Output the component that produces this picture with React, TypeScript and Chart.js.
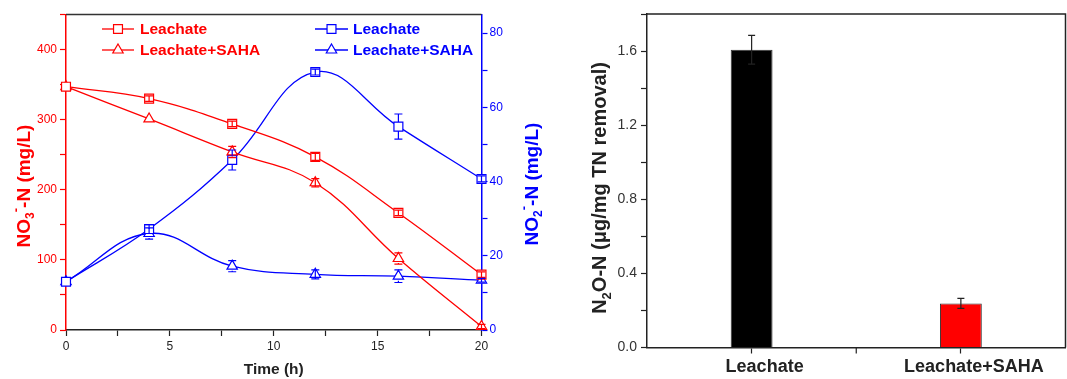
import { useEffect, useRef } from 'react';
import { Chart, registerables } from 'chart.js';

Chart.register(...registerables);

// ---------- data ----------
const times = [0, 4, 8, 12, 16, 20];
const seriesLabels = ['Leachate', 'Leachate+SAHA'];
const no3Leachate = [347, 330, 294, 247, 167, 79];
const no3LeachateErr = [0, 4, 4, 5, 4, 4];
const no3Saha = [347, 301, 254, 210, 102, 5];
const no3SahaErr = [0, 0, 8, 6, 8, 3];
const no2Leachate = [13, 27.2, 45.8, 69.5, 54.8, 40.7];
const no2LeachateErr = [0, 1.2, 2.7, 0.8, 3.4, 0.8];
const no2Saha = [13, 26, 17.2, 15, 14.5, 13.4];
const no2SahaErr = [0, 1.5, 1.5, 1.2, 1.7, 0.5];

const barCategories = ['Leachate', 'Leachate+SAHA'];
const n2oValues = [1.607, 0.238];
const n2oErr = [0.078, 0.027];

// ---------- style ----------
const FONT = '"Liberation Sans", Arial, Helvetica, sans-serif';
const RED = '#ff0000';
const BLUE = '#0000ff';
const DARK = '#222222';

Chart.defaults.font.family = FONT;

type Part = { t: string; size: number; dy?: number };

function drawRich(ctx: CanvasRenderingContext2D, parts: Part[], cx: number, cy: number, color: string, rotate: boolean, baseline: number) {
  ctx.save();
  ctx.translate(cx, cy);
  if (rotate) ctx.rotate(-Math.PI / 2);
  ctx.fillStyle = color;
  ctx.textBaseline = 'alphabetic';
  ctx.textAlign = 'left';
  const widths = parts.map((p) => {
    ctx.font = `bold ${p.size}px ${FONT}`;
    return ctx.measureText(p.t).width;
  });
  const total = widths.reduce((a, b) => a + b, 0);
  let x = -total / 2;
  parts.forEach((p, i) => {
    ctx.font = `bold ${p.size}px ${FONT}`;
    ctx.fillText(p.t, x, baseline + (p.dy || 0));
    x += widths[i];
  });
  ctx.restore();
}

function drawMarker(ctx: CanvasRenderingContext2D, style: string, x: number, y: number, r: number, stroke: string, lw: number) {
  ctx.save();
  ctx.beginPath();
  if (style === 'rect') {
    const h = r * Math.SQRT1_2;
    ctx.rect(x - h, y - h, 2 * h, 2 * h);
  } else {
    for (let k = 0; k < 3; k++) {
      const a = (k * 2 * Math.PI) / 3;
      const px = x + Math.sin(a) * r;
      const py = y - Math.cos(a) * r;
      if (k === 0) ctx.moveTo(px, py);
      else ctx.lineTo(px, py);
    }
    ctx.closePath();
  }
  ctx.fillStyle = '#ffffff';
  ctx.fill();
  ctx.strokeStyle = stroke;
  ctx.lineWidth = lw;
  ctx.stroke();
  ctx.restore();
}

const errorBarPlugin = {
  id: 'errorBars',
  afterDatasetsDraw(chart: any) {
    const ctx = chart.ctx as CanvasRenderingContext2D;
    chart.data.datasets.forEach((ds: any, i: number) => {
      const errs: number[] | undefined = ds.errors;
      if (!errs) return;
      const meta = chart.getDatasetMeta(i);
      const yScale = chart.scales[meta.yAxisID];
      const gap = ds.errorGap || 0;
      const cap = ds.errorCap || 4;
      meta.data.forEach((el: any, j: number) => {
        const e = errs[j];
        if (!e) return;
        const raw = ds.data[j];
        const v = typeof raw === 'number' ? raw : raw.y;
        const x = el.x;
        const y = yScale.getPixelForValue(v);
        const yT = yScale.getPixelForValue(v + e);
        const yB = yScale.getPixelForValue(v - e);
        ctx.save();
        ctx.strokeStyle = ds.errorColor || ds.borderColor;
        ctx.lineWidth = 1.2;
        ctx.beginPath();
        if (y - yT > gap) {
          ctx.moveTo(x, yT);
          ctx.lineTo(x, y - gap);
          ctx.moveTo(x, y + gap);
          ctx.lineTo(x, yB);
        } else {
          ctx.moveTo(x, yT);
          ctx.lineTo(x, yB);
        }
        ctx.moveTo(x - cap, yT);
        ctx.lineTo(x + cap, yT);
        ctx.moveTo(x - cap, yB);
        ctx.lineTo(x + cap, yB);
        ctx.stroke();
        ctx.restore();
      });
    });
  },
};

const legendPluginA = {
  id: 'legendA',
  afterDraw(chart: any) {
    const ctx = chart.ctx as CanvasRenderingContext2D;
    const cols = [
      { x0: 102, x1: 134, tx: 140 },
      { x0: 315, x1: 348, tx: 353 },
    ];
    const rows = [29, 50];
    chart.data.datasets.forEach((ds: any, i: number) => {
      const c = cols[i < 2 ? 0 : 1];
      const y = rows[i % 2];
      ctx.save();
      ctx.strokeStyle = ds.borderColor;
      ctx.lineWidth = 1.3;
      ctx.beginPath();
      ctx.moveTo(c.x0, y);
      ctx.lineTo(c.x1, y);
      ctx.stroke();
      drawMarker(ctx, ds.pointStyle, (c.x0 + c.x1) / 2, y, ds.pointRadius, ds.borderColor, 1.2);
      ctx.fillStyle = ds.borderColor;
      ctx.font = `bold 15.5px ${FONT}`;
      ctx.textBaseline = 'middle';
      ctx.textAlign = 'left';
      ctx.fillText(ds.label, c.tx, y + 1);
      ctx.restore();
    });
  },
};

const decoPluginA = {
  id: 'decoA',
  afterDraw(chart: any) {
    const ctx = chart.ctx as CanvasRenderingContext2D;
    const a = chart.chartArea;
    ctx.save();
    ctx.strokeStyle = '#333333';
    ctx.lineWidth = 1.5;
    ctx.beginPath();
    ctx.moveTo(a.left, a.top);
    ctx.lineTo(a.right, a.top);
    ctx.stroke();
    ctx.fillStyle = DARK;
    ctx.font = `bold 15.5px ${FONT}`;
    ctx.textAlign = 'center';
    ctx.textBaseline = 'middle';
    ctx.fillText('Time (h)', (a.left + a.right) / 2, 370);
    ctx.restore();
    drawRich(ctx, [
      { t: 'NO', size: 19 },
      { t: '3', size: 12, dy: 4 },
      { t: '-', size: 13, dy: -10 },
      { t: '-N (mg/L)', size: 19 },
    ], 22.5, 186, RED, true, 7);
    drawRich(ctx, [
      { t: 'NO', size: 19 },
      { t: '2', size: 12, dy: 4 },
      { t: '-', size: 13, dy: -10 },
      { t: '-N (mg/L)', size: 19 },
    ], 531, 184, BLUE, true, 7);
  },
};

const decoPluginB = {
  id: 'decoB',
  afterDraw(chart: any) {
    const ctx = chart.ctx as CanvasRenderingContext2D;
    const a = chart.chartArea;
    const xs = chart.scales.x;
    ctx.save();
    ctx.strokeStyle = DARK;
    ctx.lineWidth = 1.5;
    ctx.beginPath();
    ctx.moveTo(a.left, a.top);
    ctx.lineTo(a.right, a.top);
    ctx.lineTo(a.right, a.bottom);
    ctx.stroke();
    const mid = xs.getPixelForValue(0.5);
    ctx.lineWidth = 1.2;
    ctx.beginPath();
    ctx.moveTo(mid, a.bottom);
    ctx.lineTo(mid, a.bottom + 6);
    ctx.stroke();
    ctx.restore();
    drawRich(ctx, [
      { t: 'N', size: 20 },
      { t: '2', size: 13, dy: 5 },
      { t: 'O-N (\u03bcg/mg TN removal)', size: 20 },
    ], 54, 188, DARK, true, 7);
  },
};

function lineDataset(label: string, vals: number[], errs: number[], color: string, style: string, axis: string) {
  return {
    label,
    yAxisID: axis,
    data: times.map((t, i) => ({ x: t, y: vals[i] })),
    errors: errs,
    errorGap: 4.5,
    errorCap: 4,
    borderColor: color,
    backgroundColor: '#ffffff',
    pointBackgroundColor: '#ffffff',
    pointBorderColor: color,
    pointStyle: style,
    pointRadius: style === 'rect' ? 6.3 : 6,
    pointBorderWidth: 1.2,
    borderWidth: 1.3,
    tension: 0.4,
    clip: false,
    fill: false,
  };
}

export default function App() {
  const refA = useRef<HTMLCanvasElement>(null);
  const refB = useRef<HTMLCanvasElement>(null);

  useEffect(() => {
    const chartA = new Chart(refA.current as HTMLCanvasElement, {
      type: 'line',
      data: {
        datasets: [
          lineDataset(seriesLabels[0], no3Leachate, no3LeachateErr, RED, 'rect', 'y'),
          lineDataset(seriesLabels[1], no3Saha, no3SahaErr, RED, 'triangle', 'y'),
          lineDataset(seriesLabels[0], no2Leachate, no2LeachateErr, BLUE, 'rect', 'y2'),
          lineDataset(seriesLabels[1], no2Saha, no2SahaErr, BLUE, 'triangle', 'y2'),
        ] as any,
      },
      options: {
        animation: false,
        responsive: false,
        devicePixelRatio: 1,
        layout: { padding: { top: 14.5, left: 0, right: 0, bottom: 0 } },
        plugins: { legend: { display: false }, tooltip: { enabled: false } },
        scales: {
          x: {
            type: 'linear',
            min: 0,
            max: 20,
            afterFit: (s: any) => { s.height = 49; },
            ticks: {
              stepSize: 2.5,
              autoSkip: false,
              maxRotation: 0,
              callback: (v: any) => (v % 5 === 0 ? String(v) : ''),
              color: DARK,
              font: { size: 12 },
              padding: 3,
            },
            grid: { drawOnChartArea: false, tickLength: 6, tickColor: DARK, tickWidth: 1.2 },
            border: { color: DARK, width: 1.5 },
          },
          y: {
            type: 'linear',
            position: 'left',
            min: 0,
            max: 450,
            afterFit: (s: any) => { s.width = 66; },
            ticks: {
              stepSize: 50,
              autoSkip: false,
              callback: (v: any) => (v % 100 === 0 ? String(v) : ''),
              color: RED,
              font: { size: 12 },
              padding: 3,
            },
            grid: { drawOnChartArea: false, tickLength: 6, tickColor: RED, tickWidth: 1.2 },
            border: { color: RED, width: 1.5 },
          },
          y2: {
            type: 'linear',
            position: 'right',
            min: 0,
            max: 85,
            afterFit: (s: any) => { s.width = 63.5; },
            ticks: {
              stepSize: 10,
              autoSkip: false,
              callback: (v: any) => (v % 20 === 0 ? String(v) : ''),
              color: BLUE,
              font: { size: 12 },
              padding: 2,
            },
            grid: {
              drawOnChartArea: false,
              tickLength: 6,
              tickWidth: 1.2,
              tickColor: (c: any) => (c.tick && c.tick.value % 10 === 0 ? BLUE : 'rgba(0,0,0,0)'),
            },
            border: { color: BLUE, width: 1.5 },
          },
        },
      } as any,
      plugins: [errorBarPlugin, legendPluginA, decoPluginA],
    });

    const chartB = new Chart(refB.current as HTMLCanvasElement, {
      type: 'bar',
      data: {
        labels: barCategories,
        datasets: [
          {
            data: n2oValues,
            errors: n2oErr,
            errorColor: DARK,
            errorCap: 3.5,
            backgroundColor: ['#000000', '#ff0000'],
            borderColor: '#333333',
            borderWidth: 1,
            barPercentage: 0.2,
            categoryPercentage: 1,
          } as any,
        ],
      },
      options: {
        animation: false,
        responsive: false,
        devicePixelRatio: 1,
        layout: { padding: { top: 14, left: 0, right: 1.5, bottom: 0 } },
        plugins: { legend: { display: false }, tooltip: { enabled: false } },
        scales: {
          x: {
            afterFit: (s: any) => { s.height = 31.5; },
            grid: { offset: false, drawOnChartArea: false, tickLength: 6, tickColor: DARK, tickWidth: 1.2 },
            border: { color: DARK, width: 1.5 },
            ticks: { color: DARK, font: { size: 18, weight: 'bold' }, padding: 3, labelOffset: 13, maxRotation: 0, autoSkip: false },
          },
          y: {
            min: 0,
            max: 1.8,
            afterFit: (s: any) => { s.width = 102; },
            ticks: {
              stepSize: 0.2,
              autoSkip: false,
              callback: (v: any) => (Math.round(v * 10) % 4 === 0 ? Number(v).toFixed(1) : ''),
              color: '#333333',
              font: { size: 14 },
              padding: 4,
            },
            grid: { drawOnChartArea: false, tickLength: 6, tickColor: DARK, tickWidth: 1.2 },
            border: { color: DARK, width: 1.5 },
          },
        },
      } as any,
      plugins: [errorBarPlugin, decoPluginB],
    });

    return () => {
      chartA.destroy();
      chartB.destroy();
    };
  }, []);

  return (
    <div style={{ position: 'absolute', left: 0, top: 0, width: 1067, height: 379, background: '#ffffff' }}>
      <canvas ref={refA} width={545} height={379} style={{ position: 'absolute', left: 0, top: 0, width: 545, height: 379 }} />
      <canvas ref={refB} width={522} height={379} style={{ position: 'absolute', left: 545, top: 0, width: 522, height: 379 }} />
    </div>
  );
}
